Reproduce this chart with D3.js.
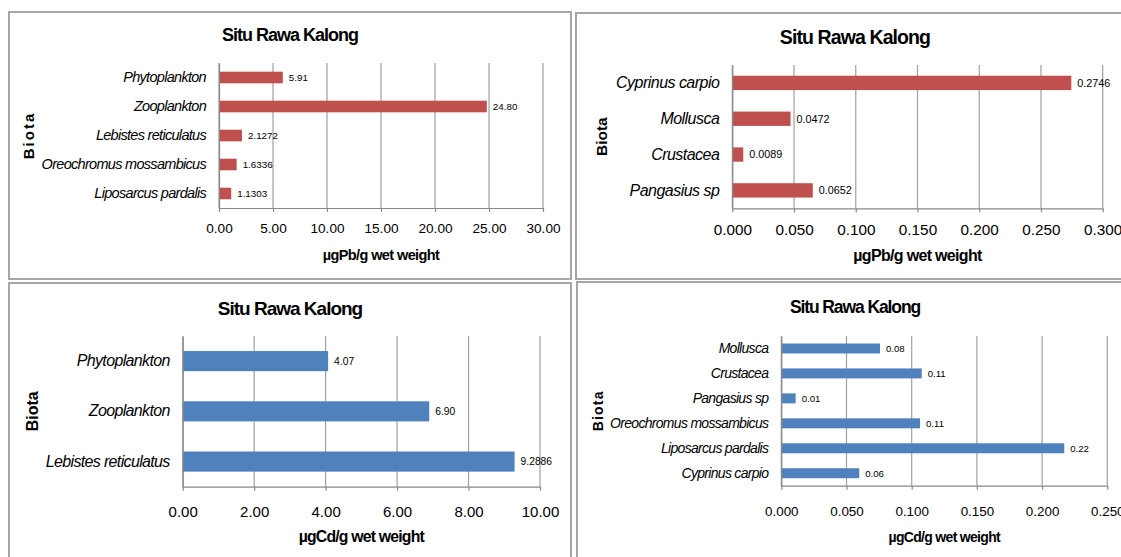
<!DOCTYPE html>
<html>
<head>
<meta charset="utf-8">
<script src="https://cdn.jsdelivr.net/npm/d3@7"></script>
<style>
  html, body { margin: 0; padding: 0; background: #fff; }
  svg { display: block; }
  text { font-family: "Liberation Sans", Arial, sans-serif; fill: #000; }
</style>
</head>
<body>
<svg id="chart" width="1121" height="557"></svg>
<script>
// ---------- DATA ----------
const chartTitle = "Situ Rawa Kalong";
const yAxisTitle = "Biota";

// Panel 1 : Pb, plankton & fish
const pbCategoriesA = ["Phytoplankton", "Zooplankton", "Lebistes reticulatus", "Oreochromus mossambicus", "Liposarcus pardalis"];
const pbValuesA = [5.91, 24.80, 2.1272, 1.6336, 1.1303];
const pbLabelsA = ["5.91", "24.80", "2.1272", "1.6336", "1.1303"];
const pbTicksA = [0, 5, 10, 15, 20, 25, 30];

// Panel 2 : Pb, other biota
const pbCategoriesB = ["Cyprinus carpio", "Mollusca", "Crustacea", "Pangasius sp"];
const pbValuesB = [0.2746, 0.0472, 0.0089, 0.0652];
const pbLabelsB = ["0.2746", "0.0472", "0.0089", "0.0652"];
const pbTicksB = [0, 0.05, 0.10, 0.15, 0.20, 0.25, 0.30];

// Panel 3 : Cd, plankton & fish
const cdCategoriesA = ["Phytoplankton", "Zooplankton", "Lebistes reticulatus"];
const cdValuesA = [4.07, 6.90, 9.2886];
const cdLabelsA = ["4.07", "6.90", "9.2886"];
const cdTicksA = [0, 2, 4, 6, 8, 10];

// Panel 4 : Cd, other biota
const cdCategoriesB = ["Mollusca", "Crustacea", "Pangasius sp", "Oreochromus mossambicus", "Liposarcus pardalis", "Cyprinus carpio"];
const cdValuesB = [0.0757, 0.1077, 0.011, 0.1064, 0.217, 0.0598];
const cdLabelsB = ["0.08", "0.11", "0.01", "0.11", "0.22", "0.06"];
const cdTicksB = [0, 0.05, 0.10, 0.15, 0.20, 0.25];

const unitPb = "µgPb/g wet weight";
const unitCd = "µgCd/g wet weight";

// ---------- LAYOUT ----------
const RED = "#C0504D", BLUE = "#4F81BD";
const panels = [
  { cats: pbCategoriesA, vals: pbValuesA, labels: pbLabelsA, ticks: pbTicksA, unit: unitPb, fmt: ".2f",
    color: RED, frame: [9, 12, 562, 267], plot: [219, 543, 63, 208],
    titleX: 290, titleY: 35, tickY: 228, axisY: 255, biotaX: 29,
    fs: { title: 18, tick: 13.6, cat: 14.5, axis: 14.5, val: 9.8, biota: 15 },
    ls: { title: -1.0, cat: -0.7, axis: -0.6, biota: 2 } },
  { cats: pbCategoriesB, vals: pbValuesB, labels: pbLabelsB, ticks: pbTicksB, unit: unitPb, fmt: ".3f",
    color: RED, frame: [576, 13, 560, 266], plot: [732.3, 1102.7, 65, 208.3],
    titleX: 855, titleY: 37, tickY: 230, axisY: 255, biotaX: 602,
    fs: { title: 19.5, tick: 15.3, cat: 16, axis: 16, val: 10.8, biota: 15.5 },
    ls: { title: -0.9, cat: -0.53, axis: -0.68, biota: 0 } },
  { cats: cdCategoriesA, vals: cdValuesA, labels: cdLabelsA, ticks: cdTicksA, unit: unitCd, fmt: ".2f",
    color: BLUE, frame: [9, 283, 562, 290], plot: [182.7, 540, 336, 486.7],
    titleX: 290, titleY: 308, tickY: 511.7, axisY: 536.7, biotaX: 32,
    fs: { title: 19, tick: 15, cat: 16, axis: 15.8, val: 10.3, biota: 16 },
    ls: { title: -1.0, cat: -0.65, axis: -0.8, biota: 0 } },
  { cats: cdCategoriesB, vals: cdValuesB, labels: cdLabelsB, ticks: cdTicksB, unit: unitCd, fmt: ".3f",
    color: BLUE, frame: [577, 282, 560, 290], plot: [781.3, 1107.3, 336, 485.7],
    titleX: 855, titleY: 307, tickY: 511.7, axisY: 536.7, biotaX: 598,
    fs: { title: 17.5, tick: 13.4, cat: 14, axis: 14, val: 9.6, biota: 14 },
    ls: { title: -1.1, cat: -0.7, axis: -0.69, biota: 1.2 } }
];

const svg = d3.select("#chart");

panels.forEach(p => {
  const g = svg.append("g");
  const [fx, fy, fw, fh] = p.frame;
  g.append("rect").attr("x", fx).attr("y", fy).attr("width", fw).attr("height", fh)
    .attr("fill", "#fff").attr("stroke", "#a6a6a6").attr("stroke-width", 2);

  const [x0, x1, y0, y1] = p.plot;
  const x = d3.scaleLinear().domain([p.ticks[0], p.ticks[p.ticks.length - 1]]).range([x0, x1]);
  const y = d3.scaleBand().domain(p.cats).range([y0, y1]).paddingInner(0.6).paddingOuter(0.3);

  // gridlines
  g.append("g").selectAll("line").data(p.ticks).join("line")
    .attr("x1", d => x(d)).attr("x2", d => x(d))
    .attr("y1", y0).attr("y2", y1)
    .attr("stroke", "#a0a0a0").attr("stroke-width", 1.2);

  // bars
  g.append("g").selectAll("rect").data(p.vals).join("rect")
    .attr("x", x(0)).attr("y", (d, i) => y(p.cats[i]))
    .attr("width", d => x(d) - x(0)).attr("height", y.bandwidth())
    .attr("fill", p.color);

  // value labels
  g.append("g").selectAll("text").data(p.vals).join("text")
    .attr("x", d => x(d) + 6).attr("y", (d, i) => y(p.cats[i]) + y.bandwidth() / 2)
    .attr("dy", "0.35em").attr("font-size", p.fs.val).attr("fill", "#222")
    .text((d, i) => p.labels[i]);

  // x axis
  const xa = g.append("g").attr("transform", `translate(0,${y1})`)
    .call(d3.axisBottom(x).tickValues(p.ticks).tickFormat(d3.format(p.fmt)).tickSizeInner(4).tickSizeOuter(0));
  xa.select(".domain").attr("stroke", "#888").attr("stroke-width", 1.2);
  xa.selectAll(".tick line").attr("stroke", "#888").attr("stroke-width", 1.2);
  xa.selectAll(".tick text").attr("y", p.tickY - y1).attr("dy", "0.35em")
    .attr("font-size", p.fs.tick).attr("font-family", null).attr("fill", "#000");

  // y axis
  const ya = g.append("g").attr("transform", `translate(${x0},0)`)
    .call(d3.axisLeft(y).tickSize(0).tickPadding(13));
  ya.select(".domain").attr("stroke", "#888").attr("stroke-width", 1.2);
  ya.selectAll(".tick text").attr("font-size", p.fs.cat).attr("font-style", "italic")
    .attr("letter-spacing", p.ls.cat)
    .attr("font-family", null).attr("fill", "#000");

  // titles
  g.append("text").attr("x", p.titleX).attr("y", p.titleY).attr("dy", "0.35em")
    .attr("text-anchor", "middle").attr("font-weight", "bold").attr("font-size", p.fs.title)
    .attr("letter-spacing", p.ls.title)
    .text(chartTitle);
  g.append("text").attr("x", (x0 + x1) / 2).attr("y", p.axisY).attr("dy", "0.35em")
    .attr("text-anchor", "middle").attr("font-weight", "bold").attr("font-size", p.fs.axis)
    .attr("letter-spacing", p.ls.axis)
    .text(p.unit);
  g.append("text")
    .attr("transform", `translate(${p.biotaX},${(y0 + y1) / 2}) rotate(-90)`)
    .attr("dy", "0.35em").attr("text-anchor", "middle").attr("font-weight", "bold")
    .attr("font-size", p.fs.biota).attr("letter-spacing", p.ls.biota)
    .text(yAxisTitle);
});
</script>
</body>
</html>
